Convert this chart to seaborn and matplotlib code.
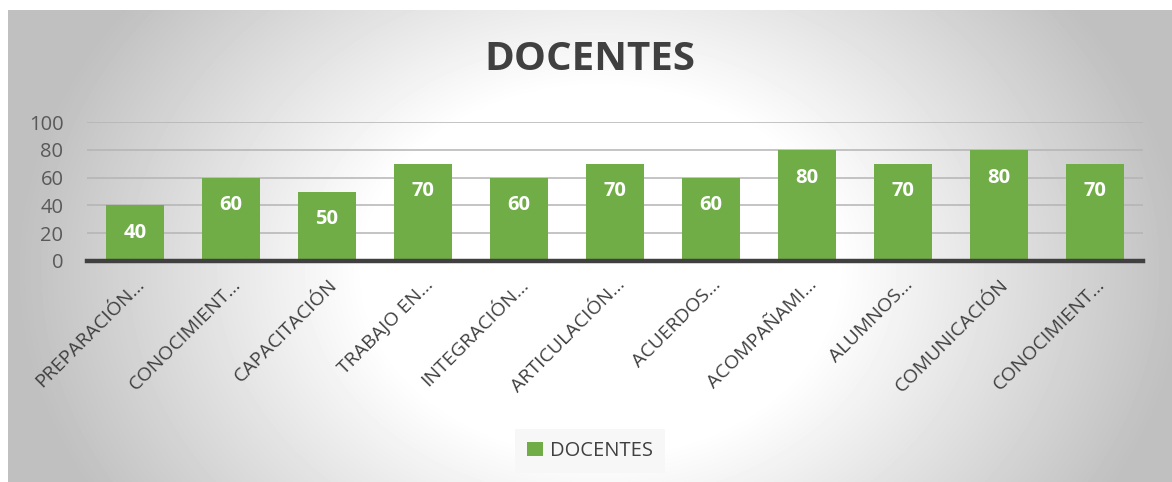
import numpy as np
import pandas as pd
import matplotlib
matplotlib.use("Agg")
import matplotlib.pyplot as plt
import matplotlib.transforms as mtransforms
import seaborn as sns

# --- data ---
categories = ["PREPARACIÓN…", "CONOCIMIENT…", "CAPACITACIÓN", "TRABAJO EN…",
              "INTEGRACIÓN…", "ARTICULACIÓN…", "ACUERDOS…", "ACOMPAÑAMI…",
              "ALUMNOS…", "COMUNICACIÓN", "CONOCIMIENT…"]
# duplicate truncated label -> keep unique keys for the categorical axis
keys = [f"{i}" for i in range(len(categories))]
values = [40, 60, 50, 70, 60, 70, 60, 80, 70, 80, 70]
y_ticks = [0, 20, 40, 60, 80, 100]
series_name = "DOCENTES"

GREEN = "#70AD47"
TEXT = "#404040"

sns.set_theme(style="white")
plt.rcParams["font.family"] = ["Open Sans", "DejaVu Sans"]

W, H = 1172, 482
fig = plt.figure(figsize=(W / 100, H / 100), dpi=100)
fig.patch.set_facecolor("white")

# --- radial gradient background (chart area) ---
bg = fig.add_axes([8 / W, 0, 1 - 8 / W, 1 - 10 / H], zorder=-10)
xx, yy = np.meshgrid(np.arange(8, W), np.arange(10, H))
d = np.sqrt(((xx - 600) / 620) ** 2 + ((yy - 270) / 480) ** 2)
shade = 255 - 62 * np.clip((d - 0.38) / 0.55, 0, 1.05)
shade = np.clip(shade, 192, 255) / 255.0
bg.imshow(shade, cmap="gray", vmin=0, vmax=1, aspect="auto",
          extent=[0, 1, 0, 1], interpolation="bilinear")
bg.set_axis_off()

# --- bars ---
ax = fig.add_axes([87 / W, 1 - 261 / H, (1143 - 87) / W, (261 - 122) / H])
ax.set_facecolor("none")
df = pd.DataFrame({"cat": keys, "val": values})
sns.barplot(data=df, x="cat", y="val", color=GREEN, saturation=1, width=0.6,
            linewidth=0, label=series_name, ax=ax, zorder=3)

ax.set_ylim(0, 100)
ax.set_xlim(-0.5, len(values) - 0.5)
ax.set_yticks(y_ticks)
ax.yaxis.grid(True, color="#b4b4b4", linewidth=1.1, zorder=0)
ax.set_axisbelow(True)
for s in ["top", "right", "left"]:
    ax.spines[s].set_visible(False)
ax.spines["bottom"].set_color(TEXT)
ax.spines["bottom"].set_linewidth(3.2)
ax.spines["bottom"].set_zorder(4)
ax.set_xlabel("")
ax.set_ylabel("")
ax.tick_params(axis="y", length=0, pad=17, labelsize=14.5, labelcolor="#595959")
ax.tick_params(axis="x", length=0, pad=15, labelsize=14, labelcolor=TEXT)
ax.set_xticks(range(len(categories)))
ax.set_xticklabels(categories, rotation=45, ha="right", va="center",
                   rotation_mode="anchor")
shift = mtransforms.ScaledTranslation(5 / 72, 0, fig.dpi_scale_trans)
for lbl in ax.get_xticklabels():
    lbl.set_transform(lbl.get_transform() + shift)

# value labels inside the top of each bar
for p in ax.patches:
    h = p.get_height()
    ax.annotate(f"{h:.0f}", (p.get_x() + p.get_width() / 2, h),
                xytext=(0, -20), textcoords="offset points",
                ha="center", va="center", color="white",
                fontsize=14.5, fontweight="bold", zorder=5)

# title
fig.text(590 / W, 1 - 60 / H, "DOCENTES", ha="center", va="center",
         fontsize=29, fontweight="bold", color=TEXT)

# legend
leg = ax.legend(loc="center", bbox_to_anchor=(590 / W, 1 - 451 / H),
                bbox_transform=fig.transFigure, frameon=True, fancybox=False,
                facecolor="#f7f7f7", edgecolor="none", framealpha=1,
                fontsize=14.5, handlelength=0.75, handleheight=0.75,
                handletextpad=0.35, borderpad=0.6)
for t in leg.get_texts():
    t.set_color(TEXT)

fig.savefig("out.png", dpi=100)
